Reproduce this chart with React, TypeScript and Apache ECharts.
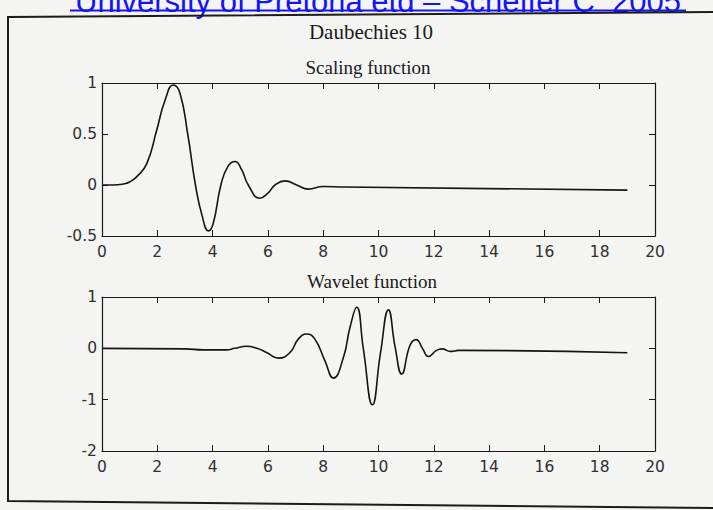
import React, { useEffect, useRef } from "react";
import * as echarts from "echarts";

// Daubechies 10 (db10) scaling function phi(x) and wavelet psi(x), support 0..19
const scalingX = [0, 0.4, 0.77, 1.0, 1.25, 1.62, 1.98, 2.28, 2.58, 2.82, 3.1, 3.38, 3.62, 3.85, 4.02, 4.3, 4.55, 4.81, 5.05, 5.29, 5.71, 6.0, 6.26, 6.62, 7.04, 7.46, 8.0, 8.75, 19];
const scalingY = [0, 0, 0.01, 0.03, 0.08, 0.21, 0.54, 0.83, 0.98, 0.9, 0.5, 0, -0.3, -0.45, -0.38, 0, 0.18, 0.23, 0.15, 0, -0.13, -0.08, 0, 0.04, 0, -0.04, -0.015, -0.02, -0.05];

const waveletX = [0, 3.0, 3.66, 4.5, 4.8, 5.23, 5.6, 5.95, 6.38, 6.8, 7.1, 7.4, 7.7, 8.06, 8.37, 8.73, 8.97, 9.21, 9.45, 9.78, 10.07, 10.36, 10.6, 10.84, 11.14, 11.36, 11.6, 11.8, 12.1, 12.3, 12.6, 12.9, 19];
const waveletY = [0, -0.01, -0.03, -0.03, 0, 0.04, 0, -0.08, -0.19, -0.08, 0.18, 0.28, 0.18, -0.24, -0.58, -0.18, 0.41, 0.8, 0, -1.1, -0.1, 0.75, 0.03, -0.5, 0.06, 0.17, -0.01, -0.16, -0.04, -0.01, -0.06, -0.04, -0.085];

// axis tick values
const xTicks = [0, 2, 4, 6, 8, 10, 12, 14, 16, 18, 20];
const scalingTicks = [-0.5, 0, 0.5, 1];
const waveletTicks = [-2, -1, 0, 1];

const pageTitle = "University of Pretoria etd \u2013 Scheffer C  2005";
const figureTitle = "Daubechies 10";
const scalingTitle = "Scaling function";
const waveletTitle = "Wavelet function";

const TICK_FONT = "'DejaVu Sans', 'Liberation Sans', sans-serif";
const SERIF = "'Liberation Serif', 'DejaVu Serif', serif";

const zip = (xs: number[], ys: number[]) => xs.map((x, i) => [x, ys[i]]);

function axisRange(ticks: number[]) {
  return { min: ticks[0], max: ticks[ticks.length - 1], interval: ticks[1] - ticks[0] };
}

function xAxes(gridIndex: number) {
  const r = axisRange(xTicks);
  const common = {
    type: "value" as const,
    gridIndex,
    ...r,
    splitLine: { show: false },
    axisLine: { show: true, onZero: false, lineStyle: { color: "#1a1a1a", width: 1.2 } },
    axisTick: { show: true, inside: true, length: 6, lineStyle: { color: "#1a1a1a", width: 1 } },
  };
  return [
    {
      ...common,
      position: "bottom",
      axisLabel: { show: true, margin: 8, color: "#303030", fontSize: 15.5, fontFamily: TICK_FONT },
    },
    { ...common, position: "top", axisLabel: { show: false } },
  ];
}

function yAxes(gridIndex: number, ticks: number[]) {
  const r = axisRange(ticks);
  const common = {
    type: "value" as const,
    gridIndex,
    ...r,
    splitLine: { show: false },
    axisLine: { show: true, onZero: false, lineStyle: { color: "#1a1a1a", width: 1.2 } },
    axisTick: { show: true, inside: true, length: 6, lineStyle: { color: "#1a1a1a", width: 1 } },
  };
  return [
    {
      ...common,
      position: "left",
      axisLabel: { show: true, margin: 5, color: "#303030", fontSize: 15.5, fontFamily: TICK_FONT },
    },
    { ...common, position: "right", axisLabel: { show: false } },
  ];
}

function lineSeries(xAxisIndex: number, yAxisIndex: number, data: number[][]) {
  return {
    type: "line" as const,
    xAxisIndex,
    yAxisIndex,
    data,
    showSymbol: false,
    smooth: 0.5,
    lineStyle: { color: "#141414", width: 1.6 },
    silent: true,
  };
}

export default function App() {
  const ref = useRef<HTMLDivElement>(null);

  useEffect(() => {
    if (!ref.current) return;
    const chart = echarts.init(ref.current, undefined, { renderer: "svg" });
    chart.setOption({
      animation: false,
      backgroundColor: "#f4f4f3",
      grid: [
        { left: 102, top: 83, width: 553, height: 153 },
        { left: 102, top: 297, width: 553, height: 154 },
      ],
      xAxis: [...xAxes(0), ...xAxes(1)],
      yAxis: [...yAxes(0, scalingTicks), ...yAxes(1, waveletTicks)],
      series: [
        lineSeries(0, 0, zip(scalingX, scalingY)),
        lineSeries(2, 2, zip(waveletX, waveletY)),
      ],
      graphic: [
        // document header link, running off the top of the page
        {
          type: "text",
          x: 378,
          y: 1.5,
          style: {
            text: pageTitle,
            fill: "#1414f5",
            font: `31px 'Liberation Sans', Arial, sans-serif`,
            lineHeight: 27,
            align: "center",
            verticalAlign: "middle",
          },
        },
        { type: "line", shape: { x1: 70, y1: 10.5, x2: 686, y2: 10.5 }, style: { stroke: "#1414f5", lineWidth: 2 } },
        // figure frame
        {
          type: "polyline",
          shape: { points: [[713, 12], [8, 17], [8, 501], [713, 508]] },
          style: { stroke: "#1c1c1c", lineWidth: 2, fill: "none" },
        },
        {
          type: "text",
          x: 371,
          y: 31.5,
          style: { text: figureTitle, fill: "#1a1a1a", font: `21px ${SERIF}`, lineHeight: 20, align: "center", verticalAlign: "middle" },
        },
        {
          type: "text",
          x: 368,
          y: 67,
          style: { text: scalingTitle, fill: "#1a1a1a", font: `19px ${SERIF}`, align: "center", verticalAlign: "middle" },
        },
        {
          type: "text",
          x: 372,
          y: 281.5,
          style: { text: waveletTitle, fill: "#1a1a1a", font: `19px ${SERIF}`, align: "center", verticalAlign: "middle" },
        },
      ],
    });
    return () => chart.dispose();
  }, []);

  return (
    <div
      ref={ref}
      style={{ position: "absolute", left: 0, top: 0, width: 713, height: 510 }}
    />
  );
}
